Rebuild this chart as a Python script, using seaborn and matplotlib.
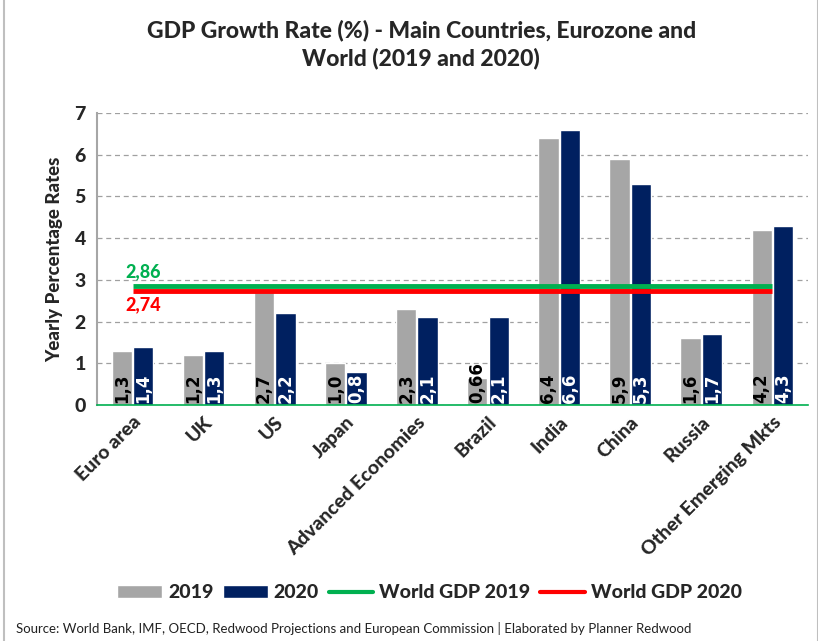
#!/usr/bin/env python3
import numpy as np
import pandas as pd
import matplotlib
matplotlib.use("Agg")
import matplotlib.pyplot as plt
import seaborn as sns
from matplotlib.lines import Line2D
from matplotlib.patches import Patch

# -------------------- Data -------------------- #
countries = ["Euro area", "UK", "US", "Japan", "Advanced Economies",
             "Brazil", "India", "China", "Russia", "Other Emerging Mkts"]
gdp_2019 = [1.3, 1.2, 2.7, 1.0, 2.3, 0.66, 6.4, 5.9, 1.6, 4.2]
gdp_2020 = [1.4, 1.3, 2.2, 0.8, 2.1, 2.1, 6.6, 5.3, 1.7, 4.3]
labels_2019 = ["1,3", "1,2", "2,7", "1,0", "2,3", "0,66", "6,4", "5,9", "1,6", "4,2"]
labels_2020 = ["1,4", "1,3", "2,2", "0,8", "2,1", "2,1", "6,6", "5,3", "1,7", "4,3"]
world_2019 = 2.86
world_2020 = 2.74

GRAY = "#A6A6A6"
NAVY = "#002060"
GREEN = "#00B050"
RED = "#FF0000"
HEAVY = "black"  # font weight for the heavy labels

df = pd.DataFrame({
    "country": countries * 2,
    "year": ["2019"] * len(countries) + ["2020"] * len(countries),
    "rate": gdp_2019 + gdp_2020,
})

# -------------------- Plot -------------------- #
sns.set_style("white")
plt.rcParams["font.family"] = ["Lato", "DejaVu Sans"]

fig = plt.figure(figsize=(8.18, 6.41), dpi=100)
ax = fig.add_axes([0.1186, 0.368, 0.869, 0.456])

sns.barplot(data=df, x="country", y="rate", hue="year",
            palette={"2019": GRAY, "2020": NAVY}, width=0.6,
            gap=0.05, ax=ax, legend=False, saturation=1)

# value labels, written bottom-up inside each bar
for cont, labs, col in zip(ax.containers, [labels_2019, labels_2020], ["black", "white"]):
    for bar, lab in zip(cont, labs):
        ax.text(bar.get_x() + bar.get_width() / 2, 0.06, lab, rotation=90,
                ha="center", va="bottom", color=col, fontsize=12,
                fontweight="bold", family="DejaVu Sans")

n = len(countries)
ax.hlines(world_2019, 0, n - 1, color=GREEN, lw=3.5, zorder=3)
ax.hlines(world_2020, 0, n - 1, color=RED, lw=3.5, zorder=3)
ax.text(-0.1, world_2019 + 0.12, "2,86", color=GREEN, fontsize=13,
        fontweight=HEAVY, ha="left", va="bottom")
ax.text(-0.1, world_2020 - 0.12, "2,74", color=RED, fontsize=13,
        fontweight=HEAVY, ha="left", va="top")

ax.set_ylim(0, 7)
ax.set_xlim(-0.5, n - 0.5)
ax.set_yticks(range(0, 8))
ax.yaxis.grid(True, linestyle=(0, (4, 3)), color="#A0A0A0", lw=0.9)
ax.set_axisbelow(True)
ax.tick_params(axis="y", labelsize=14, length=0, pad=8)
for t in ax.get_yticklabels():
    t.set_fontweight(HEAVY)

ax.set_xticks(range(n))
ax.set_xticklabels(countries, rotation=45, ha="right", rotation_mode="anchor",
                   fontsize=14, fontweight=HEAVY)
ax.tick_params(axis="x", length=0, pad=6)
ax.set_xticks(np.arange(-0.5, n), minor=True)
ax.tick_params(axis="x", which="minor", length=6, color=GREEN, width=1)

ax.set_xlabel("")
ax.set_ylabel("Yearly Percentage Rates", fontsize=13.5, fontweight=HEAVY, labelpad=8)

for s in ["top", "right"]:
    ax.spines[s].set_visible(False)
ax.spines["left"].set_color("#A6A6A6")
ax.spines["left"].set_linewidth(1.5)
ax.spines["bottom"].set_color(GREEN)
ax.spines["bottom"].set_linewidth(1.2)

fig.text(0.515, 0.93, "GDP Growth Rate (%) - Main Countries, Eurozone and\nWorld (2019 and 2020)",
         ha="center", va="center", fontsize=16.5, fontweight=HEAVY, linespacing=1.35)

handles = [
    Patch(facecolor=GRAY, label="2019"),
    Patch(facecolor=NAVY, label="2020"),
    Line2D([], [], color=GREEN, lw=3, label="World GDP 2019"),
    Line2D([], [], color=RED, lw=3, label="World GDP 2020"),
]
leg = fig.legend(handles=handles, loc="center", bbox_to_anchor=(0.525, 0.075), ncol=4,
                 frameon=False, fontsize=14, handlelength=2.3, handleheight=0.6,
                 columnspacing=0.5, handletextpad=0.3)
for t in leg.get_texts():
    t.set_fontweight(HEAVY)

fig.text(0.02, 0.02, "Source: World Bank, IMF, OECD, Redwood Projections and European Commission | Elaborated by Planner Redwood",
         ha="left", va="center", fontsize=9.5, color="#222222")

border = plt.Rectangle((0.005, -0.01), 0.995, 1.02, transform=fig.transFigure,
                       fill=False, edgecolor="#BFBFBF", lw=1.5)
fig.patches.append(border)

fig.savefig("out.png", dpi=100)
